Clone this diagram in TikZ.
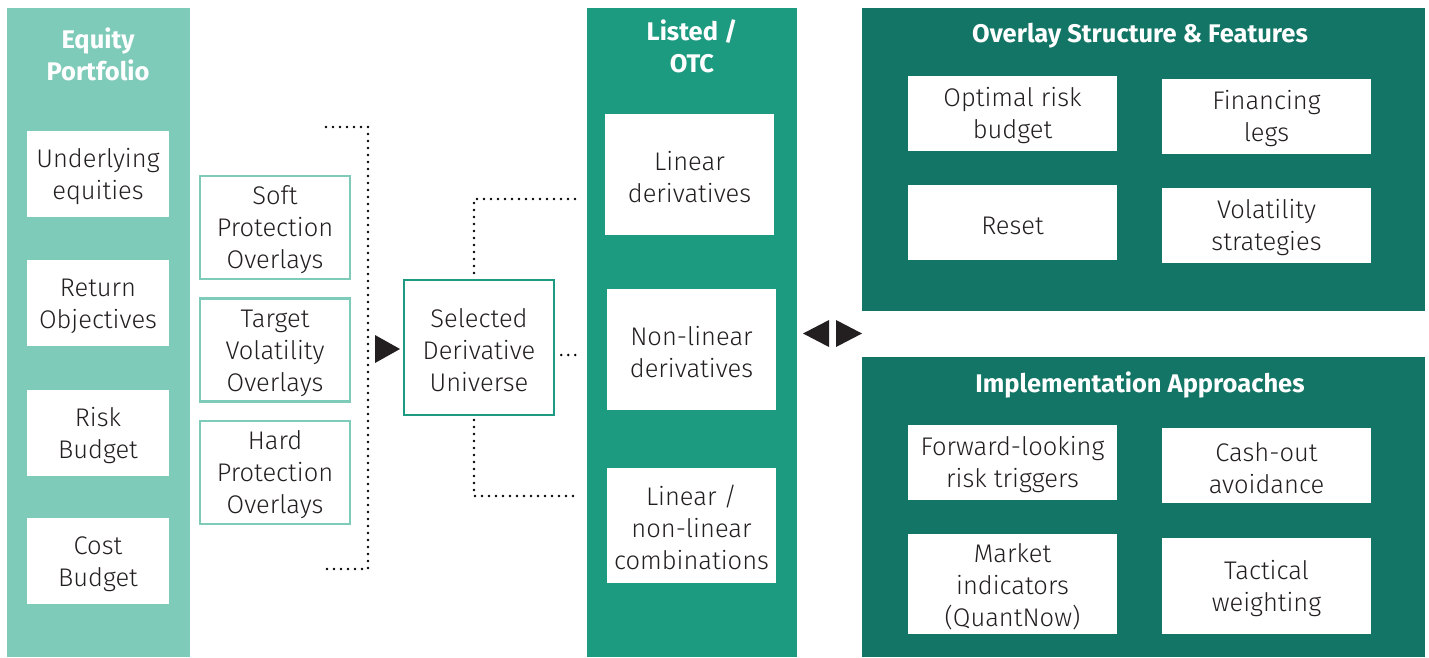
\documentclass[tikz,border=0pt]{standalone}
\usepackage{fontspec}
\setmainfont{Fira Sans}[UprightFont=* Light, BoldFont=* Bold]
\usetikzlibrary{positioning}

\definecolor{tealLight}{HTML}{7ECBB9}
\definecolor{tealMid}{HTML}{1D9B80}
\definecolor{tealDark}{HTML}{137565}
\definecolor{ink}{HTML}{231F20}

\newcommand\bodyfont{\fontsize{25.5}{32}\selectfont}
\newcommand\headfont{\fontsize{25.5}{31.5}\bfseries\selectfont}
\newcommand\lift{\rule{0pt}{24pt}}

\tikzset{
  column/.style={anchor=north west, inner sep=0pt, minimum width=#1},
  item/.style={fill=white, text=ink, align=center, inner sep=0pt, font=\bodyfont},
  head/.style={text=white, align=center, inner sep=0pt, font=\headfont},
  overlay/.style={item, draw=tealLight, line width=2.5pt, minimum width=150pt, minimum height=103pt},
  dots/.style={line width=2.6pt, dash pattern=on 0pt off 7pt, line cap=round}
}

\begin{document}
\begin{tikzpicture}[x=1pt,y=-1pt]
    \useasboundingbox (0,0) rectangle (1429,657);

    % columns and panels
    \node[column=183pt, minimum height=649pt, fill=tealLight] (EQ) at (7,8) {};
    \node[column=210pt, minimum height=649pt, fill=tealMid] (LO) at (587,8) {};
    \node[column=563pt, minimum height=303pt, fill=tealDark] (OS) at (862,8) {};
    \node[column=563pt, minimum height=300pt, fill=tealDark] (IA) at (862,357) {};

    \node[head] (EQt) at (98,54.5) {Equity\\Portfolio};
    \node[head] (LOt) at (692,46.5) {Listed /\\OTC};
    \node[head] (OSt) at (1140,35.5) {Overlay Structure \& Features};
    \node[head] (IAt) at (1140,385) {Implementation Approaches};

    % equity portfolio
    \node[item, minimum width=142pt, minimum height=86pt] (und) at (98,174) {\lift Underlying\\equities};
    \node[item, minimum width=142pt, minimum height=86pt, below=43pt of und] (ret) {\lift Return\\Objectives};
    \node[item, minimum width=142pt, minimum height=86pt, below=43pt of ret] (risk) {\lift Risk\\Budget};
    \node[item, minimum width=142pt, minimum height=86pt, below=42pt of risk] (cost) {\lift Cost\\Budget};

    % overlays
    \node[overlay] (soft) at (275,227.5) {\lift Soft\\Protection\\Overlays};
    \node[overlay, below=17pt of soft] (target) {\lift Target\\Volatility\\Overlays};
    \node[overlay, below=17pt of target] (hard) {\lift Hard\\Protection\\Overlays};

    \coordinate (bt) at (326,127);
    \coordinate (bb) at (326,569);
    \draw[dots] (bt) -| (368,569) -- (bb);
    \fill[ink] (375,335) -- (400,349) -- (375,363) -- cycle;

    % universe
    \node[item, draw=tealMid, line width=2.5pt, minimum width=150pt, minimum height=135pt] (sel) at (479,347.5) {\lift Selected\\Derivative\\Universe};

    \node[item, minimum width=169pt, minimum height=121pt] (lin) at (689.5,174.5) {\lift Linear\\derivatives};
    \node[item, minimum width=169pt, minimum height=121pt] (nonlin) at (691.5,349.5) {\lift Non-linear\\derivatives};
    \node[item, minimum width=169pt, minimum height=115pt] (comb) at (691.5,525.5) {\lift Linear /\\non-linear\\combinations};

    \draw[dots, shorten >=25pt] (474,273) |- (lin.west |- 0,199);
    \draw[dots, shorten <=6pt, shorten >=27pt] (sel.east |- 0,355) -- (nonlin.west |- 0,355);
    \draw[dots, shorten >=27pt] (474,420) |- (comb.west |- 0,496);

    \fill[ink] (829,320) -- (803,333.5) -- (829,347) -- cycle;
    \fill[ink] (836,320) -- (862,333.5) -- (836,347) -- cycle;

    % structure & features
    \node[item, minimum width=209pt, minimum height=75pt] (opt) at (1012.5,113.5) {\lift Optimal risk\\budget};
    \node[item, minimum width=209pt, minimum height=75pt] (fin) at (1266.5,116.5) {\lift Financing\\legs};
    \node[item, minimum width=209pt, minimum height=75pt] (reset) at (1012.5,222.5) {\lift Reset};
    \node[item, minimum width=209pt, minimum height=75pt] (vol) at (1266.5,225.5) {\lift Volatility\\strategies};

    % implementation
    \node[item, minimum width=209pt, minimum height=75pt] (fwd) at (1012.5,462.5) {\lift Forward-looking\\risk triggers};
    \node[item, minimum width=209pt, minimum height=75pt] (cash) at (1266.5,465.5) {\lift Cash-out\\avoidance};
    \node[item, minimum width=209pt, minimum height=100pt] (mkt) at (1012.5,584) {\lift Market\\indicators\\(QuantNow)};
    \node[item, minimum width=209pt, minimum height=96pt] (tac) at (1266.5,586) {\lift Tactical\\weighting};
\end{tikzpicture}
\end{document}
